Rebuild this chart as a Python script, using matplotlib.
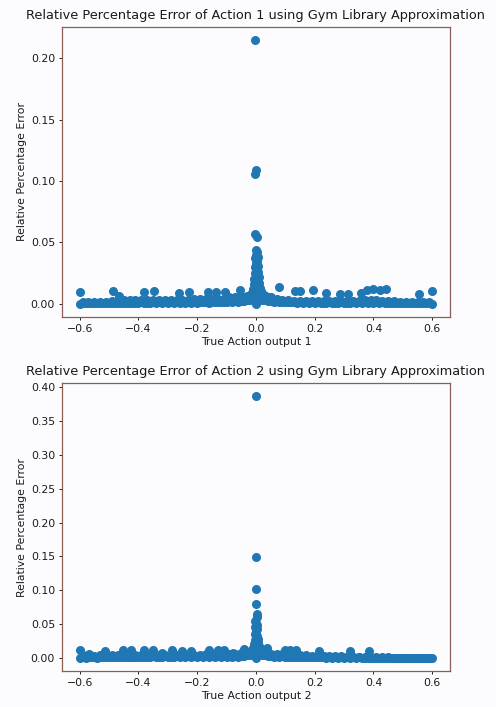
import numpy as np
import matplotlib.pyplot as plt

# ---- data ----
base_x = [-0.60, -0.58, -0.56, -0.54, -0.52, -0.50, -0.48, -0.46, -0.44, -0.42,
          -0.40, -0.38, -0.36, -0.34, -0.32, -0.30, -0.28, -0.26, -0.24, -0.22,
          -0.20, -0.18, -0.16, -0.14, -0.12, -0.10, -0.08, -0.06, -0.04, -0.02,
          0.00, 0.02, 0.04, 0.06, 0.08, 0.10, 0.12, 0.14, 0.16, 0.18,
          0.20, 0.22, 0.24, 0.26, 0.28, 0.30, 0.32, 0.34, 0.36, 0.38,
          0.40, 0.42, 0.44, 0.46, 0.48, 0.50, 0.52, 0.54, 0.56, 0.58, 0.60]
odd_x = [-0.59, -0.57, -0.55, -0.53, -0.51, -0.49, -0.47, -0.45, -0.43, -0.41,
         -0.39, -0.37, -0.35, -0.33, -0.31, -0.29, -0.27, -0.25, -0.23, -0.21,
         -0.19, -0.17, -0.15, -0.13, -0.11, -0.09, -0.07, -0.05, -0.03, -0.01,
         0.01, 0.03, 0.05, 0.07, 0.09, 0.11, 0.13, 0.15, 0.17, 0.19,
         0.21, 0.23, 0.25, 0.27, 0.29, 0.31, 0.33, 0.35, 0.37, 0.39,
         0.41, 0.43, 0.45, 0.47, 0.49, 0.51, 0.53, 0.55, 0.57, 0.59]
mid_x = [-0.59, -0.55, -0.51, -0.47, -0.43, -0.39, -0.35, -0.31, -0.27, -0.23,
         -0.19, -0.15, -0.11, -0.07, -0.03, 0.01, 0.05, 0.09, 0.13, 0.17,
         0.21, 0.25, 0.29, 0.33, 0.37, 0.41, 0.45, 0.49, 0.53, 0.57]
midb_x = [-0.57, -0.53, -0.49, -0.45, -0.41, -0.37, -0.33, -0.29, -0.25, -0.21,
          -0.17, -0.13, -0.09, -0.05, -0.01, 0.03, 0.07, 0.11, 0.15, 0.19,
          0.23, 0.27, 0.31, 0.35, 0.39, 0.43, 0.47, 0.51, 0.55, 0.59]

# action 1
base1_y = [0.0000, 0.0005, 0.0003, 0.0004, 0.0002, 0.0005, 0.0004, 0.0006, 0.0003, 0.0005,
           0.0006, 0.0004, 0.0007, 0.0005, 0.0006, 0.0004, 0.0007, 0.0005, 0.0006, 0.0008,
           0.0007, 0.0009, 0.0008, 0.0010, 0.0009, 0.0011, 0.0012, 0.0015, 0.0020, 0.0030,
           0.0000, 0.0030, 0.0020, 0.0015, 0.0012, 0.0010, 0.0009, 0.0008, 0.0008, 0.0007,
           0.0007, 0.0006, 0.0007, 0.0005, 0.0006, 0.0005, 0.0006, 0.0005, 0.0006, 0.0007,
           0.0006, 0.0007, 0.0006, 0.0004, 0.0003, 0.0003, 0.0002, 0.0002, 0.0002, 0.0001, 0.0000]
odd1_y = [0.0004, 0.0003, 0.0005, 0.0004, 0.0006, 0.0005, 0.0007, 0.0006, 0.0008, 0.0007,
          0.0009, 0.0008, 0.0010, 0.0009, 0.0011, 0.0010, 0.0012, 0.0011, 0.0012, 0.0013,
          0.0013, 0.0014, 0.0015, 0.0014, 0.0016, 0.0017, 0.0018, 0.0020, 0.0025, 0.0035,
          0.0035, 0.0025, 0.0020, 0.0017, 0.0015, 0.0014, 0.0012, 0.0011, 0.0010, 0.0010,
          0.0009, 0.0008, 0.0009, 0.0008, 0.0009, 0.0008, 0.0009, 0.0010, 0.0010, 0.0011,
          0.0010, 0.0009, 0.0008, 0.0006, 0.0005, 0.0004, 0.0003, 0.0003, 0.0002, 0.0002]
mid1_y = [0.001, 0.001, 0.001, 0.002, 0.003, 0.003, 0.003, 0.003, 0.003, 0.003,
          0.004, 0.004, 0.004, 0.005, 0.006, 0.007, 0.005, 0.003, 0.002, 0.002,
          0.002, 0.002, 0.002, 0.002, 0.003, 0.003, 0.002, 0.001, 0.001, 0.001]
midb1_y = [0.001, 0.001, 0.002, 0.003, 0.003, 0.003, 0.003, 0.003, 0.003, 0.004,
           0.004, 0.004, 0.005, 0.006, 0.008, 0.006, 0.004, 0.003, 0.002, 0.002,
           0.002, 0.002, 0.002, 0.002, 0.003, 0.002, 0.002, 0.001, 0.001, 0.001]
spike1_x = [-0.004, 0.000, -0.003, -0.002, 0.002,
            0.000, 0.004, 0.001, 0.006, -0.002, 0.005, 0.000, 0.007, -0.003, 0.004,
            0.008, -0.004, 0.002, 0.010, -0.006, 0.006, 0.012, -0.008, 0.003, 0.015,
            -0.010, 0.008, 0.018, -0.014, 0.022, -0.018, 0.026, -0.024, 0.032, -0.030,
            0.040, -0.038, 0.048, -0.048, 0.058, -0.060, 0.070, -0.072]
spike1_y = [0.215, 0.109, 0.106, 0.057, 0.054,
            0.044, 0.042, 0.040, 0.038, 0.037, 0.035, 0.033, 0.031, 0.030, 0.028,
            0.026, 0.025, 0.023, 0.022, 0.020, 0.019, 0.017, 0.016, 0.015, 0.013,
            0.012, 0.011, 0.010, 0.009, 0.008, 0.008, 0.007, 0.006, 0.006, 0.005,
            0.005, 0.004, 0.004, 0.003, 0.003, 0.003, 0.002, 0.002]
bump1_x = [-0.600, -0.486, -0.466, -0.382, -0.347, -0.263, -0.228, -0.163, -0.137, -0.106,
           -0.055, 0.079, 0.132, 0.149, 0.195, 0.240, 0.286, 0.314, 0.356, 0.377,
           0.399, 0.422, 0.444, 0.556, 0.600]
bump1_y = [0.0096, 0.0102, 0.0060, 0.0096, 0.0102, 0.0088, 0.0096, 0.0096, 0.0096, 0.0096,
           0.0110, 0.0132, 0.0102, 0.0102, 0.0107, 0.0088, 0.0074, 0.0074, 0.0088, 0.0107,
           0.0115, 0.0107, 0.0115, 0.0077, 0.0102]

# action 2
base2_y = [0.0000, 0.0005, 0.0006, 0.0005, 0.0006, 0.0007, 0.0006, 0.0007, 0.0006, 0.0007,
           0.0006, 0.0007, 0.0006, 0.0007, 0.0006, 0.0007, 0.0006, 0.0007, 0.0008, 0.0007,
           0.0008, 0.0009, 0.0008, 0.0010, 0.0011, 0.0012, 0.0015, 0.0020, 0.0030, 0.0040,
           0.0000, 0.0040, 0.0030, 0.0020, 0.0015, 0.0012, 0.0010, 0.0009, 0.0008, 0.0007,
           0.0007, 0.0006, 0.0005, 0.0004, 0.0004, 0.0003, 0.0003, 0.0003, 0.0002, 0.0002,
           0.0001, 0.0001, 0.0001, 0.0000, 0.0000, 0.0000, 0.0000, 0.0000, 0.0000, 0.0000, 0.0000]
odd2_y = [0.0015, 0.0012, 0.0018, 0.0015, 0.0020, 0.0018, 0.0020, 0.0018, 0.0020, 0.0019,
          0.0020, 0.0019, 0.0021, 0.0020, 0.0021, 0.0020, 0.0022, 0.0021, 0.0022, 0.0023,
          0.0023, 0.0024, 0.0025, 0.0026, 0.0027, 0.0028, 0.0030, 0.0032, 0.0040, 0.0050,
          0.0050, 0.0040, 0.0030, 0.0026, 0.0022, 0.0020, 0.0018, 0.0016, 0.0015, 0.0014,
          0.0013, 0.0012, 0.0011, 0.0010, 0.0009, 0.0008, 0.0007, 0.0006, 0.0005, 0.0004,
          0.0003, 0.0002, 0.0002, 0.0001, 0.0001, 0.0001, 0.0000, 0.0000, 0.0000, 0.0000]
mid2_y = [0.004, 0.003, 0.004, 0.004, 0.004, 0.004, 0.004, 0.004, 0.004, 0.004,
          0.004, 0.005, 0.005, 0.006, 0.008, 0.009, 0.006, 0.005, 0.004, 0.004,
          0.003, 0.003, 0.003, 0.002, 0.002, 0.001, 0.001, 0.000, 0.000, 0.000]
midb2_y = [0.003, 0.004, 0.004, 0.004, 0.004, 0.004, 0.004, 0.004, 0.004, 0.004,
           0.005, 0.005, 0.006, 0.007, 0.010, 0.007, 0.005, 0.005, 0.004, 0.003,
           0.003, 0.003, 0.002, 0.002, 0.002, 0.001, 0.000, 0.000, 0.000, 0.000]
spike2_x = [0.000, 0.000, 0.000, 0.001, 0.002, 0.002, -0.002, 0.000,
            0.003, -0.002, 0.004, 0.001, -0.003, 0.005, 0.000, 0.006, -0.004, 0.008,
            0.002, -0.006, 0.010, -0.008, 0.013, -0.010, 0.016, -0.014, 0.020, -0.018,
            0.025, -0.024, 0.030, -0.030, 0.038, -0.038, 0.046, -0.048, 0.056, -0.060]
spike2_y = [0.387, 0.149, 0.102, 0.079, 0.065, 0.061, 0.055, 0.052,
            0.048, 0.045, 0.042, 0.039, 0.036, 0.033, 0.030, 0.028, 0.026, 0.024,
            0.022, 0.020, 0.018, 0.016, 0.015, 0.014, 0.013, 0.012, 0.011, 0.010,
            0.009, 0.008, 0.007, 0.006, 0.006, 0.005, 0.005, 0.004, 0.004, 0.003]
bump2_x = [-0.600, -0.568, -0.515, -0.452, -0.426, -0.381, -0.350, -0.318, -0.285, -0.250,
           -0.220, -0.160, -0.129, -0.110, -0.079, -0.039, 0.036, 0.098, 0.115, 0.138,
           0.214, 0.320, 0.385]
bump2_y = [0.0110, 0.0050, 0.0097, 0.0110, 0.0110, 0.0110, 0.0110, 0.0078, 0.0110, 0.0097,
           0.0097, 0.0110, 0.0120, 0.0110, 0.0078, 0.0136, 0.0150, 0.0110, 0.0110, 0.0120,
           0.0097, 0.0097, 0.0097]

spine_col = '#8b5e55'

fig = plt.figure(figsize=(4.96, 7.07), dpi=100, facecolor='#fcfcfe')
ax1 = fig.add_axes([0.125, 0.552, 0.782, 0.410])
ax2 = fig.add_axes([0.125, 0.051, 0.782, 0.407])

panels = [
    (ax1, [base1_y, odd1_y, mid1_y, midb1_y, spike1_y, bump1_y], [spike1_x, bump1_x], 1),
    (ax2, [base2_y, odd2_y, mid2_y, midb2_y, spike2_y, bump2_y], [spike2_x, bump2_x], 2),
]
for ax, ys, xs, n in panels:
    xx = np.concatenate([base_x, odd_x, mid_x, midb_x, xs[0], xs[1]])
    yy = np.concatenate(ys)
    ax.scatter(xx, yy, s=30, color='#1f77b4')
    ax.set_facecolor('#fcfcfe')
    ax.set_title(f'Relative Percentage Error of Action {n} using Gym Library Approximation',
                 fontsize=9.3, pad=6, color='#1a1a1a')
    ax.set_xlabel(f'True Action output {n}', fontsize=7.8, labelpad=2.5, color='#1a1a1a')
    ax.set_ylabel('Relative Percentage Error', fontsize=7.8, labelpad=3, color='#1a1a1a')
    ax.tick_params(labelsize=7.8, length=2.5, width=0.6, pad=2.5, labelcolor='#1a1a1a')
    ax.set_xticks([-0.6, -0.4, -0.2, 0.0, 0.2, 0.4, 0.6])
    for sp in ax.spines.values():
        sp.set_color(spine_col)
        sp.set_linewidth(0.9)

ax1.set_yticks([0.0, 0.05, 0.10, 0.15, 0.20])
ax2.set_yticks([0.0, 0.05, 0.10, 0.15, 0.20, 0.25, 0.30, 0.35, 0.40])

fig.savefig('out.png', dpi=100, facecolor=fig.get_facecolor())
